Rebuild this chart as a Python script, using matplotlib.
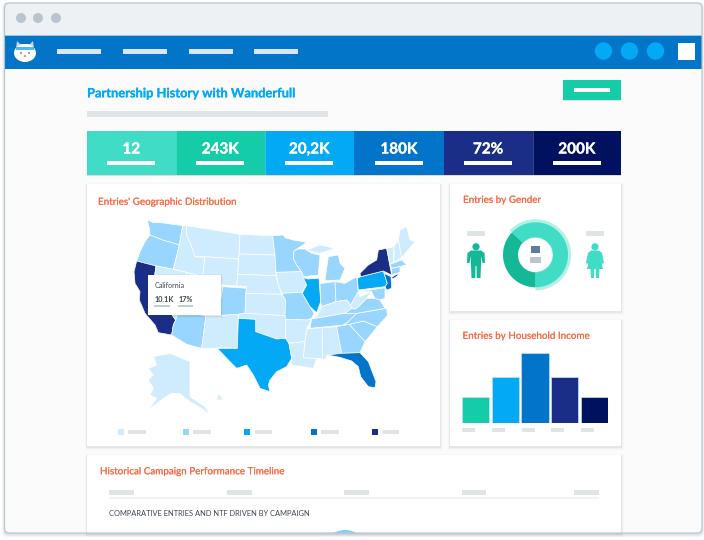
import numpy as np
import matplotlib
matplotlib.use('Agg')
import matplotlib.pyplot as plt
import matplotlib.patheffects as pe
from matplotlib.patches import Rectangle, Circle, Ellipse, FancyBboxPatch, Polygon

plt.rcParams['font.family'] = ['Lato', 'DejaVu Sans']

W, H = 704, 540

# colours
LIGHT = '#CFECFF'
MID = '#99D6FF'
BRIGHT = '#03A9F4'
BLUE = '#0274C9'
DARK = '#1A2E87'
NAVY = '#00115F'
TEAL = '#14CDA8'
AQUA = '#40DCC6'
DTEAL = '#14B897'
ORANGE = '#FF6A45'
GREY = '#DFE4E7'

page_title = 'Partnership History with Wanderfull'
kpi_labels = ['12', '243K', '20,2K', '180K', '72%', '200K']
kpi_colors = [AQUA, TEAL, BRIGHT, BLUE, DARK, NAVY]
gender_share = [63, 37]
income_values = [26, 46, 70, 46, 26]
income_colors = [TEAL, BRIGHT, BLUE, DARK, NAVY]
legend_colors = [LIGHT, MID, BRIGHT, BLUE, DARK]

# state outlines, in map units, and the colour class of each one
states = {
    'WA': [(172,105),(190,113),(205,112),(278,122),(268,180),(218,165),(180,150),(178,130)],
    'OR': [(180,150),(218,165),(268,180),(250,253),(198,243),(140,228),(150,200),(165,170)],
    'CA': [(140,228),(198,243),(190,300),(250,395),(257,405),(250,420),(245,450),(205,443),(195,420),
           (165,385),(148,345),(150,320),(135,295),(132,260)],
    'ID': [(278,122),(290,122),(290,150),(303,180),(315,215),(345,218),(338,275),(290,262),(250,253),(268,180)],
    'NV': [(198,243),(250,253),(290,262),(265,378),(257,405),(250,395),(190,300)],
    'MT': [(290,122),(450,148),(447,222),(345,215),(315,215),(303,180),(290,150)],
    'WY': [(345,215),(447,222),(440,303),(335,295),(338,275)],
    'UT': [(290,262),(338,275),(335,295),(398,305),(385,392),(348,392),(265,378)],
    'CO': [(398,305),(470,310),(465,385),(445,388),(385,392)],
    'AZ': [(265,378),(348,392),(335,490),(290,478),(245,450),(250,420),(257,405)],
    'NM': [(348,392),(385,392),(445,388),(442,490),(382,487),(380,490),(335,490)],
    'ND': [(450,148),(548,152),(555,210),(447,207)],
    'SD': [(447,207),(555,210),(558,272),(443,268)],
    'NE': [(443,268),(558,272),(565,300),(575,328),(467,325),(470,305),(440,303)],
    'KS': [(467,325),(575,328),(587,345),(585,392),(465,385)],
    'OK': [(445,388),(465,385),(585,392),(587,403),(587,460),(560,462),(540,455),(497,440),(497,403),(445,400)],
    'TX': [(445,400),(497,403),(497,440),(540,455),(560,462),(587,460),(597,475),(605,520),(590,545),
           (560,560),(540,585),(535,600),(540,620),(510,610),(490,570),(470,540),(440,550),(415,525),
           (382,490),(442,490)],
    'MN': [(548,152),(580,150),(585,158),(610,165),(650,172),(612,198),(610,220),(620,240),(635,260),(558,262),(555,210)],
    'IA': [(558,262),(635,260),(640,275),(652,285),(650,300),(635,322),(575,325),(565,300)],
    'MO': [(575,325),(635,322),(660,365),(672,385),(665,400),(650,405),(587,403),(585,392),(587,345)],
    'AR': [(587,403),(650,405),(665,402),(650,432),(645,470),(597,475),(587,460)],
    'LA': [(597,475),(645,470),(640,518),(680,520),(670,550),(640,545),(605,540),(605,520)],
    'WI': [(612,198),(625,192),(645,192),(665,205),(690,210),(685,270),(640,275),(635,260),(620,240),(610,220)],
    'IL': [(640,278),(652,282),(687,280),(692,350),(680,383),(660,365),(637,325),(650,300)],
    'IN': [(695,295),(735,290),(738,350),(695,365),(692,350),(690,295)],
    'MI': [(715,215),(745,210),(750,235),(765,250),(750,285),(705,287),(710,250)],
    'UP': [(650,195),(690,180),(735,190),(690,205)],
    'OH': [(735,290),(765,295),(800,275),(805,320),(782,360),(770,345),(738,350)],
    'KY': [(672,398),(682,392),(695,365),(738,350),(770,345),(782,360),(785,370),(765,385),(672,400)],
    'TN': [(665,402),(765,385),(800,385),(775,410),(760,420),(660,430)],
    'MS': [(650,432),(697,428),(697,520),(680,520),(640,518),(645,470)],
    'AL': [(697,428),(740,425),(755,505),(712,510),(705,525),(697,520)],
    'GA': [(740,425),(778,418),(825,470),(810,503),(755,505)],
    'FL': [(712,510),(755,505),(810,503),(835,530),(858,590),(855,608),(835,605),(812,575),(805,545),(785,528),(750,517)],
    'SC': [(778,418),(820,408),(862,425),(825,470)],
    'NC': [(760,420),(775,410),(800,385),(890,370),(892,392),(862,425),(820,408),(778,418)],
    'VA': [(765,385),(785,370),(795,372),(805,365),(830,340),(855,340),(870,345),(885,370),(800,385)],
    'WV': [(782,360),(805,320),(810,335),(845,320),(830,340),(805,365),(795,372),(785,370)],
    'MD': [(810,320),(885,308),(885,340),(870,345),(855,340),(845,320)],
    'PA': [(802,280),(812,275),(880,258),(892,295),(885,305),(805,315)],
    'NY': [(810,265),(835,240),(860,225),(865,195),(890,190),(900,245),(905,270),(880,258),(812,275)],
    'NJ': [(882,265),(903,275),(905,310),(890,315),(885,305),(892,295)],
    'LI': [(905,277),(925,265),(922,273),(908,282)],
    'VT': [(890,190),(912,185),(910,230),(900,238)],
    'NH': [(912,185),(925,165),(935,218),(912,230)],
    'ME': [(925,165),(930,135),(950,125),(960,165),(975,170),(935,218)],
    'MA': [(900,238),(935,225),(950,240),(905,250)],
    'CT': [(905,250),(930,245),(930,262),(905,270)],
    'AK': [(190,515),(240,505),(300,530),(300,635),(345,665),(360,690),(335,670),(300,650),(268,625),
           (245,625),(220,640),(175,675),(200,640),(180,630),(190,610),(175,585),(190,570),(175,550),(200,540)],
    'HI': [(385,625),(400,645),(380,645)],
}
state_colors = {
    'WA': MID, 'OR': MID, 'CA': DARK, 'ID': LIGHT, 'NV': LIGHT, 'MT': LIGHT, 'WY': LIGHT,
    'UT': LIGHT, 'CO': MID, 'AZ': MID, 'NM': LIGHT, 'ND': LIGHT, 'SD': LIGHT, 'NE': LIGHT,
    'KS': LIGHT, 'OK': LIGHT, 'TX': BRIGHT, 'MN': MID, 'IA': LIGHT, 'MO': MID, 'AR': LIGHT,
    'LA': LIGHT, 'WI': MID, 'IL': BRIGHT, 'IN': MID, 'MI': MID, 'UP': LIGHT, 'OH': MID,
    'KY': LIGHT, 'TN': MID, 'MS': LIGHT, 'AL': LIGHT, 'GA': MID, 'FL': BLUE, 'SC': MID,
    'NC': MID, 'VA': MID, 'WV': LIGHT, 'PA': BRIGHT, 'NY': DARK, 'NJ': BLUE, 'LI': DARK,
    'MD': MID, 'VT': LIGHT, 'NH': LIGHT, 'ME': LIGHT, 'MA': MID, 'CT': MID, 'AK': LIGHT,
    'HI': LIGHT,
}


def box(ax, x0, y0, x1, y1, color, z=2):
    ax.add_patch(Rectangle((x0, y0), x1 - x0, y1 - y0, fc=color, ec='none', zorder=z))


def card(ax, x0, y0, x1, y1, z=2):
    # soft shadow, then the white panel
    for grow, alpha in [(2.5, 0.02), (1.5, 0.04), (0.7, 0.07)]:
        ax.add_patch(Rectangle((x0 - grow, y0 - grow + 1), x1 - x0 + 2 * grow, y1 - y0 + 2 * grow,
                               fc='#55606A', ec='none', alpha=alpha, zorder=z))
    box(ax, x0, y0, x1, y1, 'white', z)


def label(ax, x, y, s, color, size, z=3, stroke=0.1):
    # a hair of stroke, the reference font sits between regular and bold
    ax.text(x, y, s, color=color, fontsize=size, va='center', zorder=z,
            path_effects=[pe.withStroke(linewidth=stroke, foreground=color)])


def person(ax, cx, color, female=False):
    if female:
        body = [(-4,250.5),(4,250.5),(7,253),(9,263),(6.8,264),(4.5,256),(8,269),(4.5,269),(4,278),(1,278),
                (0.7,269),(-0.7,269),(-1,278),(-4,278),(-4.5,269),(-8,269),(-4.5,256),(-6.8,264),(-9,263),(-7,253)]
    else:
        body = [(-5,250.5),(5,250.5),(8.5,253),(9,263),(6.5,263),(5.5,256),(5,265),(4.5,278),(0.7,278),(0.5,266),
                (-0.5,266),(-0.7,278),(-4.5,278),(-5,265),(-5.5,256),(-6.5,263),(-9,263),(-8.5,253)]
    ax.add_patch(Polygon([(cx + dx, y) for dx, y in body], fc=color, ec='none', zorder=4))
    ax.add_patch(Circle((cx, 246.8), 3.6, fc=color, ec='none', zorder=4))


def inset(x0, y0, x1, y1):
    a = fig.add_axes([x0 / W, 1 - y1 / H, (x1 - x0) / W, (y1 - y0) / H], zorder=3)
    a.patch.set_alpha(0)
    return a


fig = plt.figure(figsize=(W / 100, H / 100), dpi=100, facecolor='white')
ax = fig.add_axes([0, 0, 1, 1], zorder=0)
ax.set_xlim(0, W)
ax.set_ylim(H, 0)
ax.axis('off')

# browser window
for grow, alpha in [(3, 0.03), (2, 0.05), (1, 0.1)]:
    ax.add_patch(FancyBboxPatch((4.5 - grow, 3 - grow + 1.5), 697.5 + 2 * grow, 530 + 2 * grow,
                                boxstyle='round,pad=0,rounding_size=5', fc='#5A6672', ec='none',
                                alpha=alpha, zorder=0))
window = FancyBboxPatch((4.5, 3), 697.5, 530, boxstyle='round,pad=0,rounding_size=5',
                        fc='#FBFBFB', ec='none', zorder=1)
ax.add_patch(window)
clipped = []
title_bar = Rectangle((4.5, 3), 697.5, 32, fc='#EDF1F4', ec='none', zorder=1.5)
nav_bar = Rectangle((4.5, 35), 697.5, 34, fc='#0275C8', ec='none', zorder=1.5)
ax.add_patch(title_bar)
ax.add_patch(nav_bar)
clipped += [title_bar, nav_bar]
ax.plot([4.5, 702], [34.5, 34.5], color='#C5CFD7', lw=0.6, zorder=1.6)
for cx in [21, 38, 56]:
    ax.add_patch(Circle((cx, 18), 5, fc='#B9C4CE', ec='none', zorder=2))
for x0, x1 in [(57, 101), (123, 167), (189, 233), (254, 298)]:
    box(ax, x0, 49, x1, 54, '#D6E7F5')
for cx in [603.5, 629.5, 655.5]:
    ax.add_patch(Circle((cx, 51), 8.7, fc=BRIGHT, ec='none', zorder=2))
box(ax, 678, 43, 695, 60, 'white')

# logo
ax.add_patch(Polygon([(17, 41), (20, 44), (30, 44), (33, 41), (34, 48), (16, 48)], fc='#C9D3DB', ec='none', zorder=2))
ax.add_patch(Ellipse((25, 53), 22, 18, fc='white', ec='none', zorder=2))
box(ax, 16, 46.5, 34, 50, '#4FB9EE', 3)
ax.add_patch(Circle((25, 56), 1, fc=ORANGE, ec='none', zorder=3))
ax.add_patch(Circle((21, 53), 0.8, fc='#43505C', ec='none', zorder=3))
ax.add_patch(Circle((29, 53), 0.8, fc='#43505C', ec='none', zorder=3))

# header row
ax.text(87, 93.3, page_title, color=BRIGHT, fontsize=9.25, fontweight='bold', va='center', zorder=3,
        path_effects=[pe.withStroke(linewidth=0.15, foreground=BRIGHT)])
box(ax, 87, 111, 328, 117, GREY)
ax.add_patch(Rectangle((563, 81), 58, 20, fc='#8A97A2', alpha=0.25, ec='none', zorder=2))
box(ax, 563, 80, 621, 100, TEAL, 2.1)
box(ax, 574, 87.5, 610, 92, 'white', 3)

# KPI strip
kpi_edges = [87, 175.7, 264.7, 354, 443.7, 532.7, 621]
ax.add_patch(Rectangle((87, 132), 534, 44, fc='#55606A', alpha=0.2, ec='none', zorder=2))
for i, kpi in enumerate(kpi_labels):
    x0, x1 = kpi_edges[i], kpi_edges[i + 1]
    box(ax, x0, 131, x1, 175, kpi_colors[i], 2.1)
    mid = (x0 + x1) / 2
    ax.text(mid, 149.5, kpi, color='white', fontsize=11, fontweight='bold',
            ha='center', va='center', zorder=3,
            path_effects=[pe.withStroke(linewidth=0.2, foreground='white')])
    box(ax, mid - 24, 161, mid + 24, 165, 'white', 3)
for x in [175.7, 264.7, 532.7]:
    ax.plot([x, x], [131, 175], color='white', alpha=0.25, lw=0.6, zorder=3)

# cards
card(ax, 87, 184, 440, 446)
card(ax, 450, 184, 621, 311)
card(ax, 450, 320, 621, 446)
card(ax, 87, 455, 621, 533)
label(ax, 98, 202.3, "Entries' Geographic Distribution", ORANGE, 7.1)
label(ax, 463, 200.3, 'Entries by Gender', ORANGE, 7.1)
label(ax, 462.5, 336.3, 'Entries by Household Income', ORANGE, 7.1)
label(ax, 100, 471.8, 'Historical Campaign Performance Timeline', ORANGE, 7.1)

# timeline card
for x0, x1 in [(109, 133.7), (227, 251.6), (344, 369), (461.8, 486), (574, 599)]:
    box(ax, x0, 490, x1, 494.5, GREY, 3)
box(ax, 109, 497, 599, 499, '#F1F3F5', 3)
ax.text(109, 513.8, 'COMPARATIVE ENTRIES AND NTF DRIVEN BY CAMPAIGN', color='#3C4650',
        fontsize=5.4, va='center', zorder=3)
bubble = Circle((345, 553), 23, fc='#7FD0F8', ec='none', zorder=3)
ax.add_patch(bubble)
clipped.append(bubble)
for patch in clipped:
    patch.set_clip_path(window)
ax.add_patch(FancyBboxPatch((4.5, 3), 697.5, 530, boxstyle='round,pad=0,rounding_size=5',
                            fc='none', ec='#B8C4CE', lw=0.8, zorder=3.5))

# gender card
person(ax, 476, DTEAL)
person(ax, 595, AQUA, female=True)
box(ax, 467, 231, 485, 236, GREY, 3)
box(ax, 586, 231, 604, 236, GREY, 3)
ax_ring = inset(498, 217.3, 573, 292.3)
ax_ring.pie(gender_share, colors=['#B4F0E6', 'none'], radius=0.95, startangle=-90, counterclock=True,
            wedgeprops={'width': 0.5})
ax_ring.set_xlim(-1, 1)
ax_ring.set_ylim(-1, 1)
ax_donut = inset(498, 217.3, 573, 292.3)
ax_donut.pie(gender_share, colors=[AQUA, DTEAL], radius=0.867, startangle=-90, counterclock=True,
             wedgeprops={'width': 0.40})
ax_donut.set_xlim(-1, 1)
ax_donut.set_ylim(-1, 1)
ax_center = inset(528, 244, 544, 265)
ax_center.set_xlim(528, 544)
ax_center.set_ylim(265, 244)
ax_center.axis('off')
box(ax_center, 531, 246, 540, 253, '#5F7D9B')
box(ax_center, 530, 257, 541, 263, '#B9C6D0')

# income bars
ax_bar = inset(462, 353.3, 608, 423.3)
ax_bar.bar(range(len(income_values)), income_values, width=0.92, color=income_colors,
           edgecolor='#BFE4FA', linewidth=0.5)
ax_bar.set_xlim(-0.46, 4.46)
ax_bar.set_ylim(0, 70)
ax_bar.axis('off')
for i in range(len(income_values)):
    x0 = 462.3 + i * 29.6
    box(ax, x0, 428, x0 + 13, 432, GREY, 3)

# map, same units as the state outlines
ax_map = inset(90, 185, 440, 445)
ax_map.set_xlim(0, 1050)
ax_map.set_ylim(780, 0)
ax_map.axis('off')
for name, outline in states.items():
    ax_map.add_patch(Polygon(outline, fc=state_colors[name], ec='white', lw=0.5, joinstyle='round', zorder=2))

# legend under the map
legend_x = [85, 280, 463, 662, 845]
label_x = [115, 310, 494, 694, 876]
for lx, tx, color in zip(legend_x, label_x, legend_colors):
    box(ax_map, lx, 732, lx + 18, 750, color, 2)
    box(ax_map, tx, 735, tx + 52, 747, GREY, 2)

# tooltip
for grow, alpha in [(6, 0.04), (3, 0.08)]:
    ax_map.add_patch(Rectangle((175 - grow, 270 - grow + 3), 218 + 2 * grow, 120 + 2 * grow,
                               fc='#3A4650', ec='none', alpha=alpha, zorder=4))
box(ax_map, 175, 270, 393, 390, 'white', 5)
ax_map.text(194, 301, 'California', color='#3C4650', fontsize=5.1, va='center', zorder=6)
ax_map.text(193, 343, '10.1K', color='#3C4650', fontsize=5.2, fontweight='bold', va='center', zorder=6)
ax_map.text(265, 343, '17%', color='#3C4650', fontsize=5.2, fontweight='bold', va='center', zorder=6)
box(ax_map, 193, 359, 240, 365, '#C3CCD3', 6)
box(ax_map, 265, 359, 310, 365, '#C3CCD3', 6)

fig.savefig('out.png', dpi=100)
